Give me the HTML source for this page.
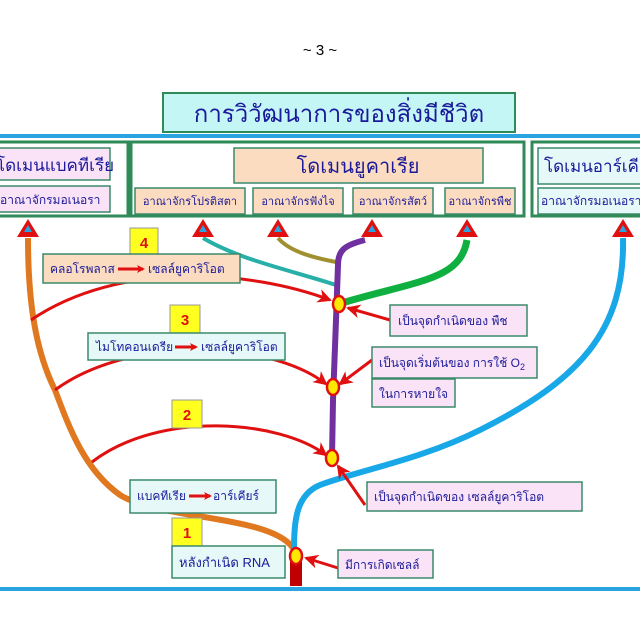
<!DOCTYPE html>
<html><head><meta charset="utf-8"><style>
html,body{margin:0;padding:0;background:#fff;}
svg{display:block;}
text{font-family:"Liberation Sans","Noto Sans CJK SC",sans-serif;fill:#1a1a9a;}
</style></head><body>
<svg width="640" height="640" viewBox="0 0 640 640" xmlns="http://www.w3.org/2000/svg">
<defs>
<marker id="ah" markerWidth="8" markerHeight="8" refX="6" refY="4" orient="auto" markerUnits="userSpaceOnUse"><path d="M0,0 L8,4 L0,8 L2,4Z" fill="#e01010"/></marker>
<marker id="ah2" markerWidth="14" markerHeight="14" refX="12" refY="7" orient="auto" markerUnits="userSpaceOnUse"><path d="M0,0 L14,7 L0,14 L4,7Z" fill="#e01010"/></marker>
</defs>
<text x="320" y="55" text-anchor="middle" font-size="15" style="fill:#000">~ 3 ~</text>
<rect x="163" y="93" width="352" height="39" fill="#c4f6f6" stroke="#2e8b57" stroke-width="2"/>
<text x="339" y="122" text-anchor="middle" font-size="24">การวิวัฒนาการของสิ่งมีชีวิต</text>
<rect x="0" y="134" width="640" height="4" fill="#2aa4e0"/>
<rect x="-2" y="142" width="130" height="74" fill="#fff" stroke="#2e8b57" stroke-width="3"/>
<rect x="131" y="142" width="393" height="74" fill="#fff" stroke="#2e8b57" stroke-width="3"/>
<rect x="532" y="142" width="112" height="74" fill="#fff" stroke="#2e8b57" stroke-width="3"/>
<rect x="-2" y="148" width="112" height="32" fill="#fbe3f7" stroke="#3a8a6a" stroke-width="1.5"/>
<text x="-4" y="171" font-size="17">โดเมนแบคทีเรีย</text>
<rect x="-2" y="186" width="112" height="26" fill="#fbe3f7" stroke="#3a8a6a" stroke-width="1.5"/>
<text x="0" y="204" font-size="12">อาณาจักรมอเนอรา</text>
<rect x="234" y="148" width="249" height="35" fill="#fcdcc0" stroke="#3a8a6a" stroke-width="1.5"/>
<text x="358" y="173" text-anchor="middle" font-size="20">โดเมนยูคาเรีย</text>
<rect x="135" y="188" width="110" height="26" fill="#fcdcc0" stroke="#3a8a6a" stroke-width="1.5"/>
<text x="190" y="205" text-anchor="middle" font-size="11">อาณาจักรโปรติสตา</text>
<rect x="253" y="188" width="90" height="26" fill="#fcdcc0" stroke="#3a8a6a" stroke-width="1.5"/>
<text x="298" y="205" text-anchor="middle" font-size="11">อาณาจักรฟังไจ</text>
<rect x="353" y="188" width="80" height="26" fill="#fcdcc0" stroke="#3a8a6a" stroke-width="1.5"/>
<text x="393" y="205" text-anchor="middle" font-size="11">อาณาจักรสัตว์</text>
<rect x="445" y="188" width="70" height="26" fill="#fcdcc0" stroke="#3a8a6a" stroke-width="1.5"/>
<text x="480" y="205" text-anchor="middle" font-size="11">อาณาจักรพืช</text>
<rect x="538" y="148" width="106" height="36" fill="#e6f8f8" stroke="#3a8a6a" stroke-width="1.5"/>
<text x="544" y="172" font-size="17">โดเมนอาร์เคีย</text>
<rect x="538" y="188" width="106" height="26" fill="#e6f8f8" stroke="#3a8a6a" stroke-width="1.5"/>
<text x="541" y="205" font-size="12">อาณาจักรมอเนอรา</text>
<path d="M28,238 C28,300 35,350 55,390 C70,430 85,470 120,495 C160,520 270,515 293,548" fill="none" stroke="#e07820" stroke-width="6"/>
<path d="M623,238 C625,330 580,380 480,430 C420,460 360,470 320,485 C296,495 294,520 294,552" fill="none" stroke="#18a8e8" stroke-width="6"/>
<path d="M203,238 C240,260 290,270 336,285" fill="none" stroke="#28b0a8" stroke-width="4"/>
<path d="M278,238 C290,252 315,258 336,262" fill="none" stroke="#a09030" stroke-width="4"/>
<path d="M365,240 C345,245 338,250 338,265 L336,320 L333,400 L332,458" fill="none" stroke="#7030a0" stroke-width="6"/>
<path d="M467,240 C460,280 420,280 342,303" fill="none" stroke="#10b040" stroke-width="7"/>
<rect x="290" y="556" width="12" height="30" fill="#c00000"/>
<g fill="none" stroke="#e01010" stroke-width="3">
<path d="M31,320 C120,260 250,270 330,300" marker-end="url(#ah2)"/>
<path d="M55,390 C130,335 270,340 326,384" marker-end="url(#ah2)"/>
<path d="M92,462 C160,410 280,420 326,455" marker-end="url(#ah2)"/>
<path d="M390,320 L348,308" marker-end="url(#ah2)"/>
<path d="M372,360 L340,384" marker-end="url(#ah2)"/>
<path d="M365,505 L338,466" marker-end="url(#ah2)"/>
<path d="M338,568 L306,558" marker-end="url(#ah2)"/>
</g>
<g>
<polygon points="17,237 28,219 39,237" fill="#e01010"/><polygon points="24,232 28,225 32,232" fill="#2aa4e0"/>
<polygon points="192,237 203,219 214,237" fill="#e01010"/><polygon points="199,232 203,225 207,232" fill="#2aa4e0"/>
<polygon points="267,237 278,219 289,237" fill="#e01010"/><polygon points="274,232 278,225 282,232" fill="#2aa4e0"/>
<polygon points="361,237 372,219 383,237" fill="#e01010"/><polygon points="368,232 372,225 376,232" fill="#2aa4e0"/>
<polygon points="456,237 467,219 478,237" fill="#e01010"/><polygon points="463,232 467,225 471,232" fill="#2aa4e0"/>
<polygon points="612,237 623,219 634,237" fill="#e01010"/><polygon points="619,232 623,225 627,232" fill="#2aa4e0"/>
</g>
<g fill="#ffe800" stroke="#e01010" stroke-width="2.5">
<ellipse cx="339" cy="304" rx="6" ry="8"/>
<ellipse cx="333" cy="387" rx="6" ry="8"/>
<ellipse cx="332" cy="458" rx="6" ry="8"/>
<ellipse cx="296" cy="556" rx="6" ry="8"/>
</g>
<g font-size="15" font-weight="bold">
<rect x="130" y="228" width="28" height="28" fill="#ffff20" stroke="#999"/><text x="144" y="248" text-anchor="middle" style="fill:#e01010">4</text>
<rect x="170" y="305" width="30" height="28" fill="#ffff20" stroke="#999"/><text x="185" y="325" text-anchor="middle" style="fill:#e01010">3</text>
<rect x="172" y="400" width="30" height="28" fill="#ffff20" stroke="#999"/><text x="187" y="420" text-anchor="middle" style="fill:#e01010">2</text>
<rect x="172" y="518" width="30" height="28" fill="#ffff20" stroke="#999"/><text x="187" y="538" text-anchor="middle" style="fill:#e01010">1</text>
</g>
<rect x="43" y="254" width="197" height="29" fill="#fcdcc0" stroke="#3a8a6a" stroke-width="1.5"/>
<text x="50" y="273" font-size="12">คลอโรพลาส</text><line x1="118" y1="269" x2="143" y2="269" stroke="#e01010" stroke-width="3" marker-end="url(#ah)"/><text x="148" y="273" font-size="12">เซลล์ยูคาริโอต</text>
<rect x="88" y="333" width="197" height="27" fill="#e6f8f8" stroke="#3a8a6a" stroke-width="1.5"/>
<text x="96" y="351" font-size="12">ไมโทคอนเดรีย</text><line x1="175" y1="347" x2="196" y2="347" stroke="#e01010" stroke-width="3" marker-end="url(#ah)"/><text x="201" y="351" font-size="12">เซลล์ยูคาริโอต</text>
<rect x="130" y="480" width="146" height="33" fill="#e6f8f8" stroke="#3a8a6a" stroke-width="1.5"/>
<text x="137" y="500" font-size="12">แบคทีเรีย</text><line x1="189" y1="496" x2="210" y2="496" stroke="#e01010" stroke-width="3" marker-end="url(#ah)"/><text x="213" y="500" font-size="12">อาร์เคียร์</text>
<rect x="172" y="546" width="113" height="32" fill="#e6f8f8" stroke="#3a8a6a" stroke-width="1.5"/>
<text x="179" y="567" font-size="13">หลังกำเนิด RNA</text>
<rect x="390" y="305" width="137" height="31" fill="#fbe3f7" stroke="#3a8a6a" stroke-width="1.5"/>
<text x="398" y="325" font-size="12">เป็นจุดกำเนิดของ  พืช</text>
<rect x="372" y="347" width="165" height="31" fill="#fbe3f7" stroke="#3a8a6a" stroke-width="1.5"/>
<text x="379" y="367" font-size="12">เป็นจุดเริ่มต้นของ การใช้ O<tspan font-size="9" dy="3">2</tspan></text>
<rect x="372" y="379" width="83" height="28" fill="#fbe3f7" stroke="#3a8a6a" stroke-width="1.5"/>
<text x="379" y="398" font-size="12">ในการหายใจ</text>
<rect x="367" y="482" width="215" height="29" fill="#fbe3f7" stroke="#3a8a6a" stroke-width="1.5"/>
<text x="374" y="501" font-size="12">เป็นจุดกำเนิดของ เซลล์ยูคาริโอต</text>
<rect x="338" y="550" width="95" height="28" fill="#fbe3f7" stroke="#3a8a6a" stroke-width="1.5"/>
<text x="345" y="569" font-size="12">มีการเกิดเซลล์</text>
<rect x="0" y="587" width="640" height="4" fill="#2aa4e0"/>
</svg>
</body></html>
